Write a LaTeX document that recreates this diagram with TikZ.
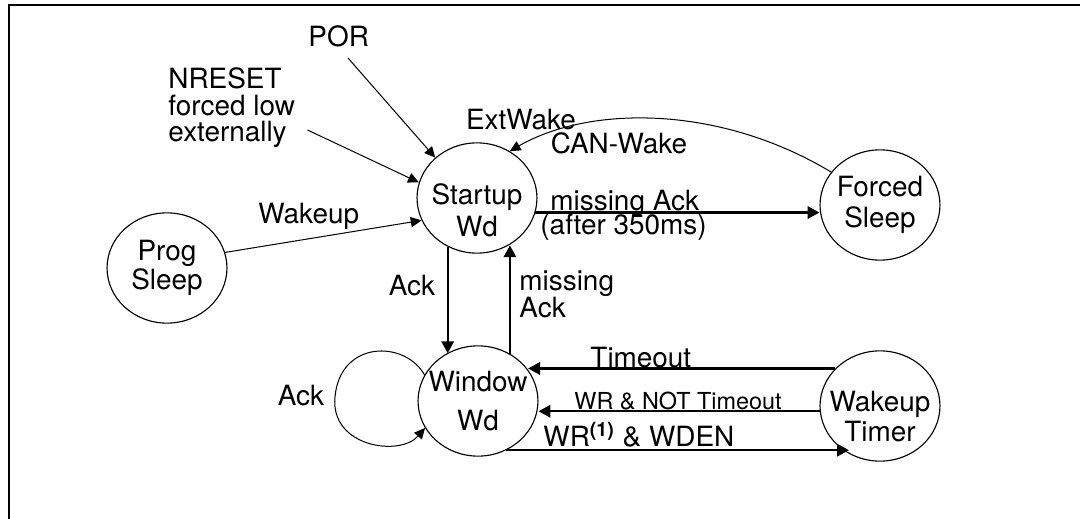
\documentclass[tikz,border=0pt]{standalone}
\usepackage{fontspec}
\setmainfont{TeX Gyre Heros}
\usetikzlibrary{arrows.meta}
\usetikzlibrary{shapes.geometric}
\tikzstyle{state} = [ellipse, draw, line width=0.5pt, minimum width=53.3pt, minimum height=49pt, inner sep=-5pt, align=center, font=\fontsize{12.4}{13}\selectfont]
\tikzstyle{lbl} = [inner sep=0pt, font=\fontsize{12.4}{12}\selectfont]
\tikzstyle{arrow} = [-{Triangle[length=5.3pt,width=5.5pt]}, line width=1pt]
\tikzstyle{thinarrow} = [-{Triangle[length=4.8pt,width=4.5pt]}, line width=0.45pt]
% pushes a state text down inside its ellipse
\newcommand{\lowtext}[1]{\rule{0pt}{#1}}

\begin{document}
\begin{tikzpicture}[x=0.4444pt, y=-0.4444pt]
  \useasboundingbox (0,0) rectangle (1080,519);

  % frame
  \draw[line width=0.9pt] (1080,5) -- (8.6,5) -- (8.6,519);

  % states
  \node[state] (st) at (477,198) {\lowtext{20pt}Startup\\[1.2pt]Wd};
  \node[state] (ps) at (167,268) {Prog\\Sleep};
  \node[state] (fs) at (880,205) {Forced\\[0.8pt]Sleep};
  \node[state] (win) at (478,401) {Window\\[4.5pt]Wd};
  \node[state] (wt) at (880,406) {\lowtext{18.5pt}Wakeup\\Timer};

  % reset / wakeup into startup
  \node[lbl, anchor=base west] (por) at (308,46.5) {POR};
  \node[lbl, anchor=west, align=left, font=\fontsize{12.4}{11.8}\selectfont] (nreset) at (168,108) {NRESET\\forced low\\externally};
  \coordinate (porfrom) at (348,58);
  \coordinate (nrfrom) at (307.5,130);
  \draw[thinarrow] (porfrom) -- (st.136);
  \draw[thinarrow] (nrfrom) -- (st.165);
  \draw[thinarrow] (ps.15) -- (st.202);
  \node[lbl, anchor=base west] (wakeup) at (258,223.5) {Wakeup};

  % back from forced sleep
  \draw[thinarrow] (fs.146) .. controls (720,105) and (590,105) .. (st.55);
  \node[lbl] (extwake) at (521,120) {ExtWake};
  \node[lbl] (canwake) at (619,143) {CAN-Wake};

  % startup -> forced sleep
  \draw[arrow] (st.346) -- (st.346 -| fs.west);
  \node[lbl, anchor=base west] (miss) at (550,210) {missing Ack};
  \node[lbl, anchor=base west] (after) at (540,235) {(after 350ms)};

  % startup <-> window
  \draw[arrow] (st.239) -- (st.239 |- win.123);
  \draw[arrow] (win.56) -- (win.56 |- st.304);
  \node[lbl] (ack) at (412,286) {Ack};
  \node[lbl, anchor=south west, align=left] (missack) at (519,318) {missing\\Ack};

  % window self loop
  \draw[thinarrow] (win.154) .. controls (405,340) and (340,340) .. (335,397)
    .. controls (330,447) and (400,457) .. (win.207);
  \node[lbl] (loopack) at (301,396) {Ack};

  % window <-> wakeup timer
  \draw[arrow] (wt.140) -- (wt.140 -| win.32);
  \node[lbl, anchor=base west] (tout) at (590,367) {Timeout};
  \draw[arrow] (wt.185) -- (wt.185 -| win.east);
  \node[lbl, anchor=base west, font=\fontsize{10.4}{10}\selectfont] (wrnot) at (574,409) {WR \& NOT Timeout};
  \draw[arrow] (win.300) -- (win.300 -| wt.237);
  \node[lbl, anchor=base west] (wden) at (543,446) {WR\textsuperscript{\textbf{(1)}} \& WDEN};

\end{tikzpicture}
\end{document}
